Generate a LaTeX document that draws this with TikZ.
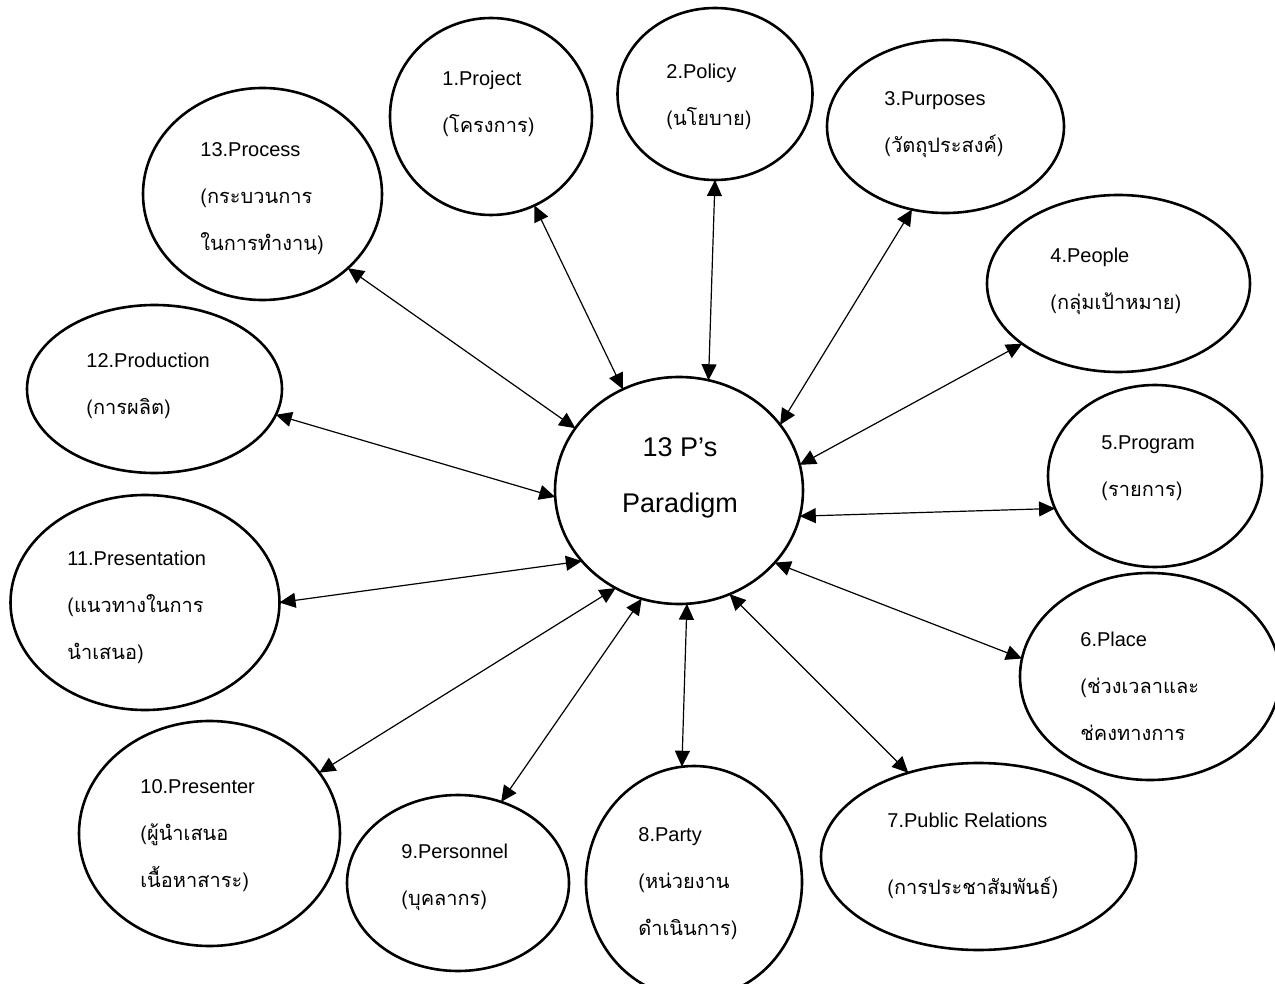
\documentclass[tikz,border=0pt]{standalone}
\usepackage{fontspec}
\setmainfont{Liberation Sans}
\newfontfamily\thai[Script=Thai]{Loma}
\usetikzlibrary{shapes.geometric,arrows.meta}

\begin{document}
\begin{tikzpicture}[x=0.5pt,y=-0.5pt,
	pbox/.style={ellipse,draw,line width=1.3pt,inner sep=0pt,outer sep=0pt},
	ptext/.style={anchor=west,align=left,inner sep=0pt,font=\fontsize{10}{23.5}\selectfont},
	link/.style={<->,>={Triangle[length=8pt,width=7.5pt]},line width=0.6pt}]
		%%%%% START %%%%%
		\useasboundingbox (0,0) rectangle (1275,984);
		\clip (0,0) rectangle (1275,984);
		
		\node[pbox,minimum width=124pt,minimum height=113.5pt] (core) at (679,490.5) {};
		\node[align=center,inner sep=0pt,font=\fontsize{13.5}{28}\selectfont] (coretext) at (680,478) {13 P’s\\Paradigm};
		
		\node[pbox,minimum width=101pt,minimum height=98.5pt] (p1) at (491,116.5) {};
		\node[pbox,minimum width=97.5pt,minimum height=86pt] (p2) at (715,94) {};
		\node[pbox,minimum width=118.5pt,minimum height=86.5pt] (p3) at (945.5,126.5) {};
		\node[pbox,minimum width=131.5pt,minimum height=88.5pt] (p4) at (1118.5,283.5) {};
		\node[pbox,minimum width=107pt,minimum height=91pt] (p5) at (1155,476) {};
		\node[pbox,minimum width=130pt,minimum height=103.5pt] (p6) at (1150,676.5) {};
		\node[pbox,minimum width=157.5pt,minimum height=93.5pt] (p7) at (978.5,856.5) {};
		\node[pbox,minimum width=108pt,minimum height=116pt] (p8) at (694,882) {};
		\node[pbox,minimum width=111pt,minimum height=88pt] (p9) at (458,883) {};
		\node[pbox,minimum width=130.5pt,minimum height=112.5pt] (p10) at (209.5,833.5) {};
		\node[pbox,minimum width=134.5pt,minimum height=107.5pt] (p11) at (145,602.5) {};
		\node[pbox,minimum width=127.5pt,minimum height=84pt] (p12) at (154.5,389) {};
		\node[pbox,minimum width=119.5pt,minimum height=106pt] (p13) at (262.5,194) {};
		
		\node[ptext] (t1) at (442,104) {1.Project\\{\thai (โครงการ)}};
		\node[ptext] (t2) at (666,97) {2.Policy\\{\thai (นโยบาย)}};
		\node[ptext] (t3) at (884,125) {3.Purposes\\{\thai (วัตถุประสงค์)}};
		\node[ptext] (t4) at (1050,281) {4.People\\{\thai (กลุ่มเป้าหมาย)}};
		\node[ptext] (t5) at (1101,468) {5.Program\\{\thai (รายการ)}};
		\node[ptext] (t6) at (1080,686) {6.Place\\{\thai (ช่วงเวลาและ}\\{\thai ช่คงทางการ}};
		\node[ptext] (t7) at (887,856) {7.Public Relations\\[10pt]{\thai (การประชาสัมพันธ์)}};
		\node[ptext] (t8) at (638,884) {8.Party\\{\thai (หน่วยงาน}\\{\thai ดำเนินการ)}};
		\node[ptext] (t9) at (401,877) {9.Personnel\\{\thai (บุคลากร)}};
		\node[ptext] (t10) at (140,836) {10.Presenter\\{\thai (ผู้นำเสนอ}\\{\thai เนื้อหาสาระ)}};
		\node[ptext] (t11) at (67,607) {11.Presentation\\{\thai (แนวทางในการ}\\{\thai นำเสนอ)}};
		\node[ptext] (t12) at (86,386) {12.Production\\{\thai (การผลิต)}};
		\node[ptext] (t13) at (200,199) {13.Process\\{\thai (กระบวนการ}\\{\thai ในการทำงาน)}};
		
		\draw[link] (p1.-64) -- (core.119.2);
		\draw[link] (p2.-90.5) -- (core.75.6);
		\draw[link] (p3.-112) -- (core.33);
		\draw[link] (p4.212.5) -- (core.12.6);
		\draw[link] (p5.198.8) -- (core.-12.7);
		\draw[link] (p6.172) -- (core.-37.5);
		\draw[link] (p7.130.2) -- (core.-64.3);
		\draw[link] (p8.96.8) -- (core.-86.1);
		\draw[link] (p9.62.4) -- (core.251.7);
		\draw[link] (p10.29.5) -- (core.237.1);
		\draw[link] (p11.0) -- (core.216.2);
		\draw[link] (p12.-12.4) -- (core.183.3);
		\draw[link] (p13.-41.3) -- (core.149.5);
		%%%%% END %%%%%
\end{tikzpicture}
\end{document}
